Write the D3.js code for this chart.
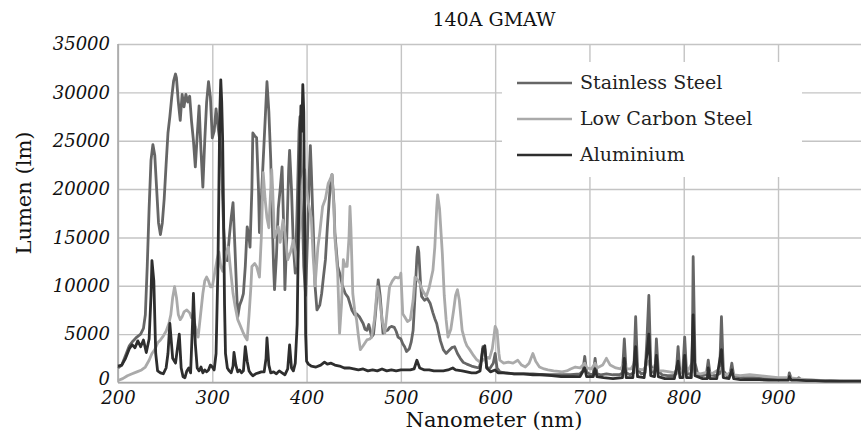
<!DOCTYPE html>
<html>
<head>
<meta charset="UTF-8">
<title>140A GMAW</title>
<script src="https://cdn.jsdelivr.net/npm/d3@7"></script>
<style>
  body { margin: 0; background: #fff; }
  svg { display: block; font-family: "DejaVu Serif", serif; }
  .grid line { stroke: #c4c4c4; stroke-width: 1.4; }
  .grid .domain { display: none; }
  .tick text { font-family: "DejaVu Serif", serif; font-style: italic; font-size: 18px; fill: #111; }
</style>
</head>
<body>
<script>
  // Spectra: [nanometer, lumen]
  const stainless = [[200,1500],[204,1800],[208,2800],[212,3800],[216,4300],[220,4700],[224,5000],[227,5600],[229,7000],[231,12000],[233,18000],[235,23000],[237,24600],[239,23500],[241,20000],[243,16500],[245,15300],[247,16500],[249,19000],[251,22500],[253,25800],[255,27500],[257,29500],[259,31200],[261,31900],[262,31500],[264,29000],[266,27100],[268,29800],[270,28500],[272,29800],[274,29000],[276,29600],[278,27000],[280,25000],[282,22300],[284,25500],[286,28600],[288,24000],[290,20200],[292,25000],[294,29000],[296,31100],[298,29500],[300,25300],[302,26000],[304,28300],[306,26500],[308,25000],[310,22000],[312,16000],[314,13000],[316,12600],[318,15000],[320,17000],[322,18600],[324,14000],[326,9000],[327,6800],[329,8000],[331,8500],[333,9200],[335,12000],[337,16100],[339,15000],[340,14000],[342,20000],[343,25800],[345,25500],[347,25300],[349,20000],[350,15500],[352,19000],[354,23000],[356,27000],[358,31100],[360,28000],[362,23000],[363,18900],[365,12000],[366,9600],[368,13000],[370,18000],[372,20000],[374,22300],[376,15000],[377,9600],[379,15000],[381,22000],[382,24000],[384,20000],[386,14000],[388,11300],[390,18000],[392,26000],[393,27500],[395,20000],[397,12000],[399,9000],[401,15000],[403,22000],[404,24500],[405,22000],[407,16100],[409,10000],[411,7500],[414,8000],[416,9200],[418,11000],[420,12700],[422,16000],[425,20200],[427,21500],[429,18500],[430,15500],[433,12000],[436,11000],[438,10000],[441,9200],[444,8800],[448,7500],[451,7000],[453,7100],[456,6800],[460,6100],[462,5500],[464,5400],[466,6000],[469,4700],[471,5000],[473,7000],[475,9500],[476,10600],[478,9000],[480,6500],[481,5100],[483,5300],[486,5400],[488,5700],[490,5800],[493,5700],[495,5300],[497,4700],[500,4500],[502,4000],[504,3700],[506,3200],[509,3500],[511,4200],[513,5400],[515,9000],[517,13000],[518,14000],[519,13500],[521,10000],[522,8900],[525,8500],[528,8700],[531,8200],[534,7200],[536,6600],[538,6100],[540,5200],[542,4300],[545,3400],[548,3000],[551,3300],[554,3600],[557,3700],[560,3000],[563,2500],[566,2100],[570,1900],[575,1700],[579,1600],[583,1500],[585,2200],[587,3700],[589,3500],[591,1600],[594,1400],[598,2000],[600,3000],[602,1500],[605,1100],[610,1000],[620,900],[630,900],[640,900],[650,800],[660,800],[670,800],[680,800],[690,900],[693,1200],[695,2700],[697,1100],[701,800],[704,900],[706,2500],[708,900],[712,800],[718,900],[725,800],[732,800],[735,1000],[737,4500],[739,1000],[743,800],[747,1000],[749,6800],[751,1400],[755,900],[759,1000],[761,4500],[763,9000],[765,1800],[768,1000],[770,2000],[771,4500],[773,1200],[777,800],[783,700],[789,700],[792,900],[794,3700],[796,1000],[799,1200],[801,4700],[803,1000],[807,800],[809,1500],[810,13000],[812,2000],[815,800],[820,700],[824,800],[826,2300],[828,800],[833,700],[838,900],[840,6800],[842,1200],[846,700],[849,800],[851,2000],[853,700],[858,600],[865,500],[875,500],[885,400],[895,400],[905,400],[911,400],[912,1000],[914,400],[920,300],[922,500],[924,300],[935,250],[945,200],[955,200],[965,150],[975,150],[988,150]];

  const lowCarbon = [[200,200],[205,400],[210,700],[215,900],[220,1100],[225,1300],[229,1600],[233,2300],[236,3000],[239,3400],[242,4100],[245,4400],[248,4800],[251,5300],[254,6100],[256,7000],[258,8800],[260,9900],[262,8800],[264,7000],[266,6500],[268,6800],[270,7300],[273,7500],[276,7200],[278,6700],[280,6800],[282,5800],[285,4700],[287,6500],[290,9200],[292,10500],[294,10900],[296,10500],[298,9900],[300,9900],[302,11000],[305,12700],[307,13500],[309,12000],[311,11500],[313,12500],[315,13500],[317,14000],[319,12000],[322,9200],[324,8000],[327,6500],[330,5800],[333,5100],[335,4700],[337,4400],[339,7000],[341,10000],[342,12000],[345,12300],[347,12000],[350,10900],[352,15000],[354,21700],[356,19000],[358,17000],[360,16000],[363,22000],[364,20000],[366,15000],[368,15500],[370,16100],[372,14500],[375,16800],[377,15500],[380,12700],[383,13500],[386,14700],[388,13500],[390,12000],[392,15000],[394,18000],[396,21000],[398,22000],[400,20000],[402,18500],[405,17000],[407,13000],[409,10000],[412,14000],[414,15500],[417,18200],[420,19000],[423,20600],[425,21000],[427,21500],[429,18000],[430,15000],[432,12500],[433,11300],[435,5100],[437,8000],[439,12700],[441,12000],[443,12000],[445,15000],[446,18200],[447,16000],[449,9200],[451,7500],[453,6500],[455,4800],[457,3400],[460,3800],[464,4400],[467,4500],[469,4700],[472,6500],[475,9900],[477,9000],[480,6500],[483,5100],[485,7000],[488,9900],[491,10500],[494,10900],[497,10800],[499,10900],[500,11300],[502,7100],[504,6800],[507,6300],[510,6500],[513,8500],[515,10900],[518,10600],[520,10300],[523,9500],[527,8900],[530,9800],[534,11600],[536,14000],[538,18000],[539,19400],[541,18000],[544,13300],[546,9000],[548,6500],[550,4700],[553,5500],[556,7500],[558,9000],[560,9600],[562,8500],[565,5400],[568,4300],[570,3800],[573,3400],[577,2800],[580,2400],[584,2100],[587,2300],[591,2600],[594,2500],[597,3500],[599,5000],[600,5800],[602,5400],[604,3000],[605,2300],[609,2000],[614,2100],[619,2000],[624,2300],[628,1800],[632,1600],[636,2000],[640,3000],[643,2200],[647,1600],[652,1400],[656,1300],[662,1200],[667,1150],[671,1100],[676,1200],[680,1400],[685,1600],[690,1500],[695,2000],[697,1500],[702,1400],[706,2000],[708,1500],[714,1800],[718,2500],[722,1800],[728,1500],[733,1400],[737,2000],[739,1400],[744,1400],[749,2200],[751,1400],[757,1300],[763,2200],[765,1300],[771,1500],[773,1200],[778,1200],[785,1100],[790,1000],[794,1500],[796,1000],[801,1500],[803,1000],[810,2200],[812,1000],[818,900],[826,1100],[830,900],[840,1500],[842,900],[846,800],[851,1200],[853,800],[860,700],[870,800],[880,700],[890,600],[900,500],[912,500],[920,400],[930,300],[940,250],[950,200],[960,150],[970,120],[980,100],[988,100]];

  const aluminium = [[200,1700],[204,1800],[208,2500],[212,3500],[215,3900],[218,3600],[221,4300],[224,3700],[227,4400],[230,3100],[233,4500],[235,9000],[236,12600],[238,10500],[240,3000],[242,1200],[245,1000],[248,900],[251,1500],[253,3000],[255,6100],[258,2500],[261,2000],[263,3500],[265,5000],[267,1500],[269,600],[271,500],[273,1200],[275,1500],[277,1000],[279,6000],[280,9200],[282,4000],[284,1500],[286,1200],[288,1600],[290,1000],[292,1300],[294,1100],[296,1300],[298,1800],[300,1600],[302,1300],[304,3000],[306,12000],[307,20000],[308,28000],[309,31300],[310,29000],[311,25000],[312,17000],[313,8000],[314,3000],[316,1500],[318,1200],[320,1000],[322,1700],[323,3100],[325,1800],[327,1100],[329,1300],[331,1000],[333,1200],[335,3700],[337,2200],[339,1200],[341,900],[343,700],[346,900],[349,1000],[352,1100],[355,1100],[357,2500],[358,4600],[360,1800],[362,1000],[365,1100],[368,900],[371,1200],[374,1000],[377,800],[380,1400],[382,3900],[384,1500],[386,1200],[388,2000],[390,6000],[392,20000],[394,28600],[395,26000],[396,30800],[397,28000],[398,16000],[399,5000],[400,2200],[402,1900],[405,1700],[410,1600],[415,1800],[419,2100],[422,1900],[426,2000],[430,1800],[435,1700],[440,1500],[445,1500],[450,1400],[455,1300],[460,1400],[465,1200],[470,1300],[475,1200],[480,1400],[485,1200],[490,1300],[495,1200],[500,1300],[505,1300],[510,1300],[514,1400],[517,2300],[520,1500],[525,1300],[530,1300],[535,1200],[540,1200],[545,1200],[550,1300],[555,1500],[558,1300],[565,1200],[570,1100],[575,1000],[580,1000],[584,1200],[587,3500],[589,3800],[591,1500],[595,1100],[600,1300],[603,1000],[610,1000],[620,900],[630,900],[640,800],[650,800],[660,700],[670,600],[680,600],[690,600],[695,1500],[697,600],[704,600],[706,1400],[708,600],[715,500],[725,400],[735,500],[737,2500],[739,500],[746,500],[749,3700],[751,600],[758,500],[761,3000],[763,5000],[765,700],[769,600],[771,2800],[773,600],[780,400],[790,400],[794,2200],[796,500],[799,500],[801,2800],[803,500],[808,500],[810,7000],[812,700],[820,400],[825,400],[826,1500],[828,400],[835,400],[840,3400],[842,500],[848,400],[851,1300],[853,400],[860,300],[870,300],[880,300],[890,250],[900,250],[911,250],[912,600],[914,250],[920,250],[930,200],[940,200],[950,150],[960,150],[970,150],[980,150],[988,150]];

  const seriesNames = ["Stainless Steel", "Low Carbon Steel", "Aluminium"];
  const seriesColors = ["#666666", "#aaaaaa", "#2e2e2e"];
  const xTicks = [200, 300, 400, 500, 600, 700, 800, 900];
  const yTicks = [0, 5000, 10000, 15000, 20000, 25000, 30000, 35000];

  const w = 861, h = 435;
  const plotLeft = 118, plotRight = 861, plotTop = 44, plotBottom = 382.5;

  const svg = d3.select("body").append("svg")
    .attr("width", w)
    .attr("height", h);

  const x = d3.scaleLinear().domain([200, 988]).range([plotLeft, plotRight]);
  const y = d3.scaleLinear().domain([0, 35000]).range([plotBottom, plotTop]);

  // gridlines + tick labels
  svg.append("g")
    .attr("class", "grid")
    .attr("transform", "translate(" + plotLeft + ",0)")
    .call(d3.axisLeft(y).tickValues(yTicks).tickSize(-(plotRight - plotLeft)).tickPadding(8).tickFormat(d3.format("d")))
    .call(g => g.selectAll(".tick text").filter(d => d === 0).attr("dy", "0.1em"));

  svg.append("g")
    .attr("class", "grid")
    .attr("transform", "translate(0," + plotBottom + ")")
    .call(d3.axisBottom(x).tickValues(xTicks).tickSize(-(plotBottom - plotTop)).tickPadding(8).tickFormat(d3.format("d")))
    .call(g => g.selectAll(".tick text").attr("dy", "0.76em"));

  // axis lines
  svg.append("line").attr("x1", plotLeft).attr("x2", plotLeft).attr("y1", plotTop).attr("y2", plotBottom)
    .attr("stroke", "#a8a8a8").attr("stroke-width", 1.6);
  svg.append("line").attr("x1", plotLeft).attr("x2", plotRight).attr("y1", plotBottom).attr("y2", plotBottom)
    .attr("stroke", "#a8a8a8").attr("stroke-width", 1.6);

  const line = d3.line()
    .x(d => x(d[0]))
    .y(d => y(d[1]));

  const plot = svg.append("g");
  [stainless, lowCarbon, aluminium].forEach((s, i) => {
    plot.append("path")
      .datum(s)
      .attr("d", line)
      .attr("fill", "none")
      .attr("stroke", seriesColors[i])
      .attr("stroke-width", 2.8)
      .attr("stroke-linejoin", "round");
  });

  // legend (white box hides the grid behind it)
  const legend = svg.append("g");
  legend.append("rect")
    .attr("x", 502).attr("y", 62)
    .attr("width", 300).attr("height", 115)
    .attr("fill", "#fff");

  seriesNames.forEach((name, i) => {
    const ly = 83 + i * 36;
    legend.append("line")
      .attr("x1", 517).attr("x2", 572)
      .attr("y1", ly).attr("y2", ly)
      .attr("stroke", seriesColors[i])
      .attr("stroke-width", 2.4);
    legend.append("text")
      .attr("x", 580).attr("y", ly + 6)
      .attr("font-size", "19px")
      .attr("fill", "#222")
      .text(name);
  });

  // titles
  svg.append("text")
    .attr("x", 494).attr("y", 26)
    .attr("text-anchor", "middle")
    .attr("font-size", "19px")
    .attr("fill", "#111")
    .text("140A GMAW");

  svg.append("text")
    .attr("x", 494).attr("y", 427)
    .attr("text-anchor", "middle")
    .attr("font-size", "21px")
    .attr("fill", "#111")
    .text("Nanometer (nm)");

  svg.append("text")
    .attr("transform", "translate(31,193) rotate(-90)")
    .attr("text-anchor", "middle")
    .attr("font-size", "21px")
    .attr("fill", "#111")
    .text("Lumen (lm)");
</script>
</body>
</html>
